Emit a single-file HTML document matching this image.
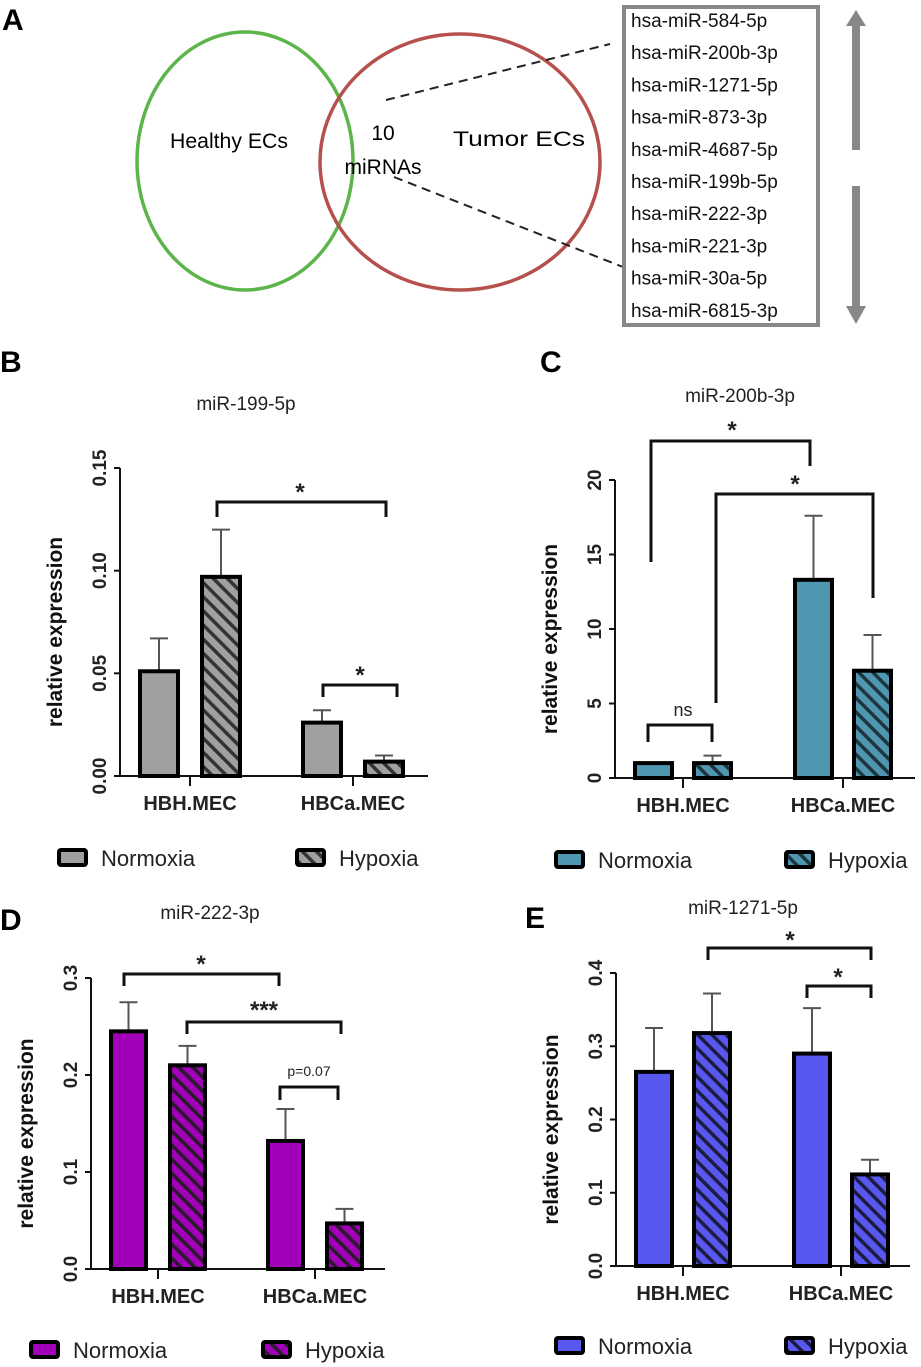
<!DOCTYPE html>
<html><head><meta charset="utf-8">
<style>
html,body{margin:0;padding:0;background:#fff;}
svg{display:block;font-family:"Liberation Sans",Arial,sans-serif;}
</style></head>
<body>
<svg id="fig" width="921" height="1367" viewBox="0 0 921 1367" xmlns="http://www.w3.org/2000/svg">
<defs>
<pattern id="hB" patternUnits="userSpaceOnUse" width="10" height="10" patternTransform="rotate(-45)"><rect width="10" height="10" fill="#a0a0a0"/><rect width="3.5" height="10" fill="#333"/></pattern>
<pattern id="hC" patternUnits="userSpaceOnUse" width="10" height="10" patternTransform="rotate(-45)"><rect width="10" height="10" fill="#4f97b0"/><rect width="3.5" height="10" fill="#1e3540"/></pattern>
<pattern id="hD" patternUnits="userSpaceOnUse" width="10" height="10" patternTransform="rotate(-45)"><rect width="10" height="10" fill="#a200b8"/><rect width="3.5" height="10" fill="#2a1a2c"/></pattern>
<pattern id="hE" patternUnits="userSpaceOnUse" width="10" height="10" patternTransform="rotate(-45)"><rect width="10" height="10" fill="#5858f0"/><rect width="3.5" height="10" fill="#1c1c40"/></pattern>
</defs>
<g>
<text x="2" y="30" font-size="30" font-weight="bold">A</text>
<ellipse cx="245" cy="161" rx="108" ry="129" fill="none" stroke="#5cb54a" stroke-width="3.5"/>
<ellipse cx="460" cy="162" rx="140" ry="128" fill="none" stroke="#b5504c" stroke-width="3.5"/>
<text x="170" y="148" font-size="21" textLength="118" lengthAdjust="spacingAndGlyphs">Healthy ECs</text>
<text x="453" y="146" font-size="21" textLength="132" lengthAdjust="spacingAndGlyphs">Tumor  ECs</text>
<text x="383" y="140" font-size="21" text-anchor="middle">10</text>
<text x="383" y="174" font-size="21" text-anchor="middle">miRNAs</text>
<line x1="386" y1="100" x2="610" y2="44" stroke="#222" stroke-width="2" stroke-dasharray="9,6"/>
<line x1="394" y1="177" x2="623" y2="267" stroke="#222" stroke-width="2" stroke-dasharray="9,6"/>
<rect x="624" y="7" width="194" height="318" fill="#fff" stroke="#888" stroke-width="4"/>
<g id="mirlist" font-size="19" fill="#111"></g>
<path d="M852 150 V26 H846 L856 10 L866 26 H860 V150 Z" fill="#888"/>
<path d="M852 186 V306 H846 L856 324 L866 306 H860 V186 Z" fill="#888"/>
</g>
<g id="charts"></g>
</svg>
<script>
const NS="http://www.w3.org/2000/svg";
const mirnas=["hsa-miR-584-5p","hsa-miR-200b-3p","hsa-miR-1271-5p","hsa-miR-873-3p","hsa-miR-4687-5p","hsa-miR-199b-5p","hsa-miR-222-3p","hsa-miR-221-3p","hsa-miR-30a-5p","hsa-miR-6815-3p"];
const ml=document.getElementById('mirlist');
mirnas.forEach((m,i)=>{const t=document.createElementNS(NS,'text');


t.setAttribute('x',631);t.setAttribute('y',27+i*32.2);t.textContent=m;ml.appendChild(t);});

const categories=["HBH.MEC","HBCa.MEC"];
const seriesNames=["Normoxia","Hypoxia"];
const bNorm=[0.051,0.026], bHyp=[0.097,0.007], bNormErr=[0.067,0.032], bHypErr=[0.120,0.010];
const bTicks=["0.00","0.05","0.10","0.15"], bTickVals=[0,0.05,0.10,0.15];
const cNorm=[1.0,13.3], cHyp=[1.0,7.2], cNormErr=[1.0,17.6], cHypErr=[1.5,9.6];
const cTicks=["0","5","10","15","20"], cTickVals=[0,5,10,15,20];
const dNorm=[0.245,0.132], dHyp=[0.21,0.047], dNormErr=[0.275,0.165], dHypErr=[0.23,0.062];
const dTicks=["0.0","0.1","0.2","0.3"], dTickVals=[0,0.1,0.2,0.3];
const eNorm=[0.265,0.29], eHyp=[0.318,0.125], eNormErr=[0.325,0.352], eHypErr=[0.372,0.145];
const eTicks=["0.0","0.1","0.2","0.3","0.4"], eTickVals=[0,0.1,0.2,0.3,0.4];

const root=document.getElementById('charts');
function el(tag,attrs,parent,txt){const e=document.createElementNS(NS,tag);for(const k in attrs)e.setAttribute(k,attrs[k]);if(txt!==undefined)e.textContent=txt;(parent||root).appendChild(e);return e;}

function chart(c){
 const g=el('g',{});
 
 
 const y=v=>c.y0-(v-0)/c.ymax*(c.y0-c.ytop);
 const t=el('text',{x:c.tx,y:c.ty,'font-size':19,'text-anchor':'middle',fill:'#222'},g,c.title);
 
 
 if(c.letter){const L=el('text',{x:c.lx,y:c.ly,'font-size':30,'font-weight':'bold'},g,c.letter);
 
 }
 const ya=el('line',{x1:c.ax,y1:c.ytop,x2:c.ax,y2:c.y0,stroke:'#111','stroke-width':2},g);
 
 
 const xa=el('line',{x1:c.ax-6,y1:c.y0,x2:c.xend,y2:c.y0,stroke:'#111','stroke-width':2},g);
 
 
 c.tickVals.forEach((v,i)=>{
  el('line',{x1:c.ax-6,y1:y(v),x2:c.ax,y2:y(v),stroke:'#111','stroke-width':2},g);
  const tl=el('text',{x:0,y:0,'font-size':19,'font-weight':'bold','text-anchor':'middle',fill:'#222',transform:`translate(${c.ax-14},${y(v)}) rotate(-90)`},g,c.ticks[i]);
  
  
 });
 const yt=el('text',{x:0,y:0,'font-size':21,'font-weight':'bold','text-anchor':'middle',fill:'#111',transform:`translate(${c.ax-58},${(c.ytop+c.y0)/2+10}) rotate(-90)`},g,'relative expression');
 
 
 categories.forEach((cat,i)=>{
  const cx=c.catX[i];
  el('line',{x1:cx,y1:c.y0,x2:cx,y2:c.y0+10,stroke:'#111','stroke-width':2},g);
  const cl=el('text',{x:cx,y:c.y0+34,'font-size':20,'text-anchor':'middle',fill:'#222','font-weight':'bold'},g,cat);
  
  
  [[c.norm,c.normErr,c.color,-1],[c.hyp,c.hypErr,`url(#${c.pat})`,1]].forEach(([vals,errs,fill,side],s)=>{
   const x0=cx+side*(c.gap/2)+(side<0?-c.bw:0);
   const ex=x0+c.bw/2;
   const er=el('line',{x1:ex,y1:y(errs[i]),x2:ex,y2:y(vals[i]),stroke:'#555','stroke-width':2},g);
   
   
   el('line',{x1:ex-9,y1:y(errs[i]),x2:ex+9,y2:y(errs[i]),stroke:'#555','stroke-width':2},g);
   const b=el('rect',{x:x0,y:y(vals[i]),width:c.bw,height:c.y0-y(vals[i]),fill:fill,stroke:'#000','stroke-width':4},g);
   
   
  });
 });
 c.brackets.forEach(br=>{
  const p=el('path',{d:`M${br.x1} ${br.l1} V${br.y} H${br.x2} V${br.l2}`,fill:'none',stroke:'#111','stroke-width':3},g);
  
  
  const s=el('text',{x:br.tx,y:br.ty,'font-size':br.fs||24,'text-anchor':'middle',fill:'#222','font-weight':br.fs?'normal':'bold'},g,br.label);
  
  
 });
 [[c.color,c.lg[0]],[`url(#${c.pat})`,c.lg[1]]].forEach(([f,lx],i)=>{
  const r=el('rect',{x:lx,y:c.ly2-8,width:27,height:15,fill:f,stroke:'#000','stroke-width':4,rx:2},g);
  
  
  const lt=el('text',{x:lx+42,y:c.ly2+8,'font-size':22,fill:'#222'},g,seriesNames[i]);
  
  
 });
}

chart({id:'b',title:'miR-199-5p',tx:246,ty:410,letter:'B',lx:0,ly:372,ax:120,ytop:468,y0:776,ymax:0.15,xend:428,
 tickVals:bTickVals,ticks:bTicks,catX:[190,353],bw:38,gap:24,norm:bNorm,hyp:bHyp,normErr:bNormErr,hypErr:bHypErr,color:'#a0a0a0',pat:'hB',
 brackets:[{x1:217,x2:386,y:502,l1:517,l2:517,tx:300,ty:500,label:'*'},{x1:323,x2:397,y:685,l1:697,l2:697,tx:360,ty:683,label:'*'}],
 lg:[59,297],ly2:858});
chart({id:'c',title:'miR-200b-3p',tx:740,ty:402,letter:'C',lx:540,ly:372,ax:615,ytop:480,y0:778,ymax:20,xend:915,
 tickVals:cTickVals,ticks:cTicks,catX:[683,843],bw:37,gap:22,norm:cNorm,hyp:cHyp,normErr:cNormErr,hypErr:cHypErr,color:'#4f97b0',pat:'hC',
 brackets:[{x1:651,x2:810,y:441,l1:562,l2:466,tx:732,ty:438,label:'*'},{x1:716,x2:873,y:494,l1:703,l2:598,tx:795,ty:492,label:'*'},{x1:648,x2:712,y:725,l1:742,l2:742,tx:683,ty:716,label:'ns',fs:18}],
 lg:[556,786],ly2:860});
chart({id:'d',title:'miR-222-3p',tx:210,ty:919,letter:null,ax:91,ytop:978,y0:1269,ymax:0.3,xend:385,
 tickVals:dTickVals,ticks:dTicks,catX:[158,315],bw:35,gap:24,norm:dNorm,hyp:dHyp,normErr:dNormErr,hypErr:dHypErr,color:'#a200b8',pat:'hD',
 brackets:[{x1:124,x2:279,y:974,l1:986,l2:986,tx:201,ty:972,label:'*'},{x1:187,x2:341,y:1022,l1:1034,l2:1034,tx:264,ty:1018,label:'***'},{x1:280,x2:338,y:1087,l1:1100,l2:1100,tx:309,ty:1076,label:'p=0.07',fs:14}],
 lg:[31,263],ly2:1350});
chart({id:'e',title:'miR-1271-5p',tx:743,ty:914,letter:null,ax:616,ytop:973,y0:1266,ymax:0.4,xend:910,
 tickVals:eTickVals,ticks:eTicks,catX:[683,841],bw:36,gap:22,norm:eNorm,hyp:eHyp,normErr:eNormErr,hypErr:eHypErr,color:'#5858f0',pat:'hE',
 brackets:[{x1:708,x2:871,y:948,l1:960,l2:960,tx:790,ty:948,label:'*'},{x1:807,x2:871,y:986,l1:998,l2:998,tx:838,ty:985,label:'*'}],
 lg:[556,786],ly2:1346});
const ld=el('text',{x:0,y:930,'font-size':30,'font-weight':'bold'},root,'D');


const le=el('text',{x:525,y:928,'font-size':30,'font-weight':'bold'},root,'E');


</script>
</body></html>
